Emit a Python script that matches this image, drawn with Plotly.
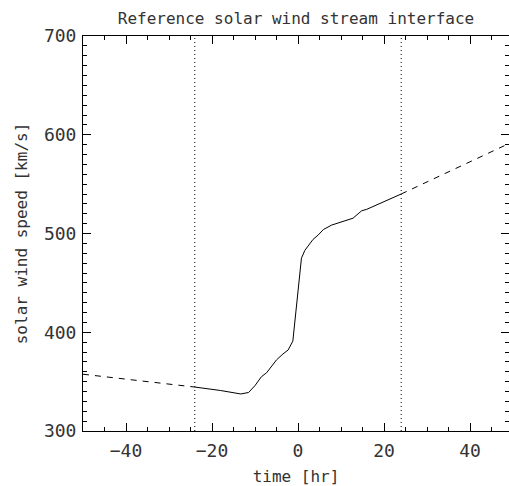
import plotly.graph_objects as go

# Solid reference profile (time [hr], speed [km/s]) within +-24 hr
t_solid = [-24.0, -18.0, -13.3, -11.5, -10.0, -8.5, -7.3, -6.0, -5.0, -3.5, -2.3,
           -1.2, 0.8, 1.6, 3.5, 4.7, 5.9, 7.8, 9.8, 12.8, 14.8, 16.0, 24.0]
v_solid = [344.5, 341.0, 337.5, 339.0, 346.0, 355.0, 359.0, 366.0, 372.0, 378.0, 382.0,
           391.0, 475.0, 483.0, 494.0, 498.5, 504.0, 508.5, 511.5, 515.5, 523.0, 524.5, 540.0]

# Dashed extrapolations outside +-24 hr
t_left = [-50.0, -24.0]
v_left = [357.5, 344.5]
t_right = [24.0, 50.0]
v_right = [540.0, 593.0]

# Vertical dotted markers
t_marks = [-24.0, 24.0]

x_range = [-50, 49.07]
y_range = [300, 700]

title_text = "Reference solar wind stream interface"
x_title = "time [hr]"
y_title = "solar wind speed [km/s]"

FONT = "DejaVu Sans Mono"
INK = "#000000"
TXT = "#333333"

fig = go.Figure()
fig.add_trace(go.Scatter(x=t_left, y=v_left, mode="lines",
                         line=dict(color=INK, width=1, dash="6px,6px"), showlegend=False))
fig.add_trace(go.Scatter(x=t_solid, y=v_solid, mode="lines",
                         line=dict(color=INK, width=1), showlegend=False))
fig.add_trace(go.Scatter(x=t_right, y=v_right, mode="lines",
                         line=dict(color=INK, width=1, dash="6px,6px"), showlegend=False))
for tm in t_marks:
    fig.add_trace(go.Scatter(x=[tm, tm], y=y_range, mode="lines",
                             line=dict(color=INK, width=1, dash="1px,3px"), showlegend=False))

fig.update_layout(
    width=509, height=486,
    margin=dict(l=83, r=0, t=36, b=55),
    paper_bgcolor="white", plot_bgcolor="white",
    font=dict(family=FONT, size=16, color=TXT),
    title=dict(text=title_text, x=0.5, xref="paper", y=0.963, yref="container",
               yanchor="middle", font=dict(family=FONT, size=16, color=TXT)),
)
fig.update_xaxes(
    range=x_range, showgrid=False, zeroline=False,
    showline=True, linecolor=INK, linewidth=1, mirror="allticks",
    ticks="inside", ticklen=8, tickcolor=INK, tickwidth=1,
    tick0=0, dtick=20, ticklabelstandoff=3,
    minor=dict(ticks="inside", ticklen=4, dtick=5, tick0=0, tickcolor=INK, showgrid=False),
    tickfont=dict(family=FONT, size=18, color=TXT),
    title=dict(text=x_title, standoff=12, font=dict(family=FONT, size=16, color=TXT)),
)
fig.update_yaxes(
    range=y_range, showgrid=False, zeroline=False,
    showline=True, linecolor=INK, linewidth=1, mirror="allticks",
    ticks="inside", ticklen=8, tickcolor=INK, tickwidth=1,
    tick0=300, dtick=100, ticklabelstandoff=2,
    minor=dict(ticks="inside", ticklen=4, dtick=10, tick0=300, tickcolor=INK, showgrid=False),
    tickfont=dict(family=FONT, size=18, color=TXT),
    title=dict(text=y_title, standoff=12, font=dict(family=FONT, size=16, color=TXT)),
)

fig.write_html("out.html")
